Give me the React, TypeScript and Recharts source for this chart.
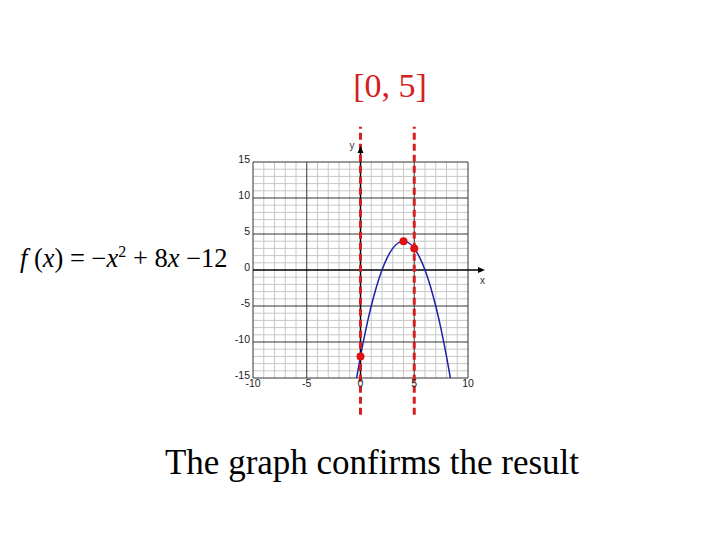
import { ComposedChart, XAxis, YAxis, Line, Scatter, ReferenceLine, ReferenceDot } from 'recharts';

const xTicks = [-10, -5, 0, 5, 10];
const yTicks = [-15, -10, -5, 0, 5, 10, 15];
const minorX = [-9, -8, -7, -6, -4, -3, -2, -1, 1, 2, 3, 4, 6, 7, 8, 9];
const minorY = [-14, -13, -12, -11, -9, -8, -7, -6, -4, -3, -2, -1, 1, 2, 3, 4, 6, 7, 8, 9, 11, 12, 13, 14];
const majorX = [-10, -5, 5, 10];
const majorY = [-15, -10, -5, 5, 10, 15];

// f(x) = -x^2 + 8x - 12, sampled
const curveX = [-0.36, 0, 0.5, 1, 1.5, 2, 2.5, 3, 3.5, 4, 4.5, 5, 5.5, 6, 6.5, 7, 7.5, 8, 8.36];
const curveY = [-15, -12, -8.25, -5, -2.25, 0, 1.75, 3, 3.75, 4, 3.75, 3, 1.75, 0, -2.25, -5, -8.25, -12, -15];
const curve = curveX.map((x, i) => ({ x, y: curveY[i] }));

const marked = [
  { x: 0, y: -12 },
  { x: 4, y: 4 },
  { x: 5, y: 3 },
];
const intervalEnds = [0, 5];

const RED = '#d42020';
const tickStyle = { fontSize: 10.5, fill: '#222', fontFamily: 'Liberation Sans, Arial, sans-serif' };

const ArrowRight = (props: any) => (
  <g>
    <path d={`M${props.cx + 3},${props.cy} L${props.cx - 4},${props.cy - 3} L${props.cx - 4},${props.cy + 3} Z`} fill="#000" />
    <text x={props.cx - 2} y={props.cy + 14} fontSize={10} fontFamily="Liberation Sans, Arial, sans-serif" fill="#333">x</text>
  </g>
);

const ArrowUp = (props: any) => (
  <g>
    <path d={`M${props.cx},${props.cy - 3} L${props.cx - 3},${props.cy + 4} L${props.cx + 3},${props.cy + 4} Z`} fill="#000" />
    <text x={props.cx - 11} y={props.cy} fontSize={10} fontFamily="Liberation Sans, Arial, sans-serif" fill="#333">y</text>
  </g>
);

export default function App() {
  return (
    <div style={{ position: 'absolute', left: 0, top: 0, width: 720, height: 540, background: '#fff', fontFamily: 'Liberation Serif, Times New Roman, serif' }}>
      <div style={{ position: 'absolute', left: 0, width: 780, top: 67, textAlign: 'center', fontSize: 34, color: RED }}>[0, 5]</div>
      <div style={{ position: 'absolute', left: 20, top: 243, fontSize: 26.5, color: '#000', whiteSpace: 'nowrap' }}>
        <i>f</i> (<i>x</i>) = −<i>x</i><sup style={{ fontSize: 16 }}>2</sup> + 8<i>x</i> −12
      </div>
      <div style={{ position: 'absolute', left: 0, width: 744, top: 443, textAlign: 'center', fontSize: 35, color: '#000' }}>The graph confirms the result</div>
      <ComposedChart width={720} height={540} margin={{ top: 162, right: 252, bottom: 142, left: 223 }} style={{ position: 'absolute', left: 0, top: 0 }}>
        <XAxis type="number" dataKey="x" domain={[-10, 10]} ticks={xTicks} axisLine={false} tickLine={false} tickSize={0} tickMargin={2} height={20} tick={tickStyle} allowDataOverflow />
        <YAxis type="number" dataKey="y" domain={[-15, 15]} ticks={yTicks} axisLine={false} tickLine={false} tickSize={0} tickMargin={3} width={30} tick={{ ...tickStyle, dy: -3 }} allowDataOverflow />
        {minorX.map((v) => <ReferenceLine key={`mx${v}`} x={v} stroke="#c8c8c8" strokeWidth={1} />)}
        {minorY.map((v) => <ReferenceLine key={`my${v}`} y={v} stroke="#c8c8c8" strokeWidth={1} />)}
        {majorX.map((v) => <ReferenceLine key={`Mx${v}`} x={v} stroke="#333" strokeWidth={1} />)}
        {majorY.map((v) => <ReferenceLine key={`My${v}`} y={v} stroke="#333" strokeWidth={1} />)}
        <ReferenceLine segment={[{ x: -10, y: 0 }, { x: 11.3, y: 0 }]} stroke="#000" strokeWidth={1.5} ifOverflow="visible" />
        <ReferenceLine segment={[{ x: 0, y: -15 }, { x: 0, y: 16.8 }]} stroke="#000" strokeWidth={1.5} ifOverflow="visible" />
        <ReferenceDot x={11.3} y={0} r={3} ifOverflow="visible" shape={ArrowRight} />
        <ReferenceDot x={0} y={16.8} r={3} ifOverflow="visible" shape={ArrowUp} />
        <Line data={curve} dataKey="y" type="natural" stroke="#1f1fa8" strokeWidth={1.5} dot={false} isAnimationActive={false} />
        {intervalEnds.map((v) => (
          <ReferenceLine key={`iv${v}`} segment={[{ x: v, y: -20.1 }, { x: v, y: 19.9 }]} stroke={RED} strokeWidth={3} strokeDasharray="7 4" ifOverflow="visible" />
        ))}
        <Scatter data={marked} dataKey="y" fill="#e01010" isAnimationActive={false} shape={(p: any) => <circle cx={p.cx} cy={p.cy} r={4} fill="#e01010" />} />
      </ComposedChart>
    </div>
  );
}
